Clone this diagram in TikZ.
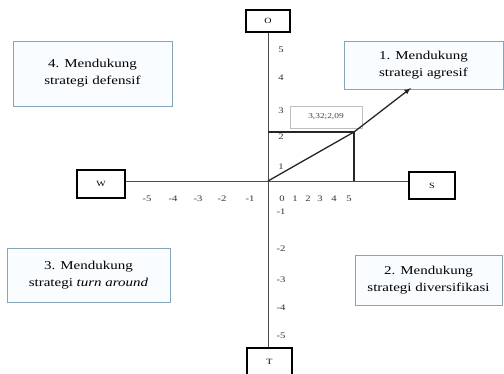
\documentclass[tikz,border=0pt]{standalone}
\usepackage{fontspec}
\setmainfont{Liberation Serif}[FakeStretch=1.25]
\usetikzlibrary{positioning}

\definecolor{garisbiru}{RGB}{135,165,185}
\definecolor{isibiru}{RGB}{250,253,255}

\tikzset{
  kuadran/.style={draw=garisbiru, fill=isibiru, line width=0.9pt, align=center,
    inner sep=0pt, font=\fontsize{12}{17}\selectfont},
  sumbubox/.style={draw=black, line width=1.3pt, fill=white, inner sep=0pt,
    font=\fontsize{8}{9}\selectfont},
  angka/.style={font=\fontsize{8.5}{9}\selectfont, text=black!80, inner sep=0pt},
  garis/.style={line width=1.3pt, black!85}
}

\begin{document}
\begin{tikzpicture}[x=1pt, y=-1pt]
    \useasboundingbox (0,0) rectangle (504,373);

    %-------------------------
    % Kotak kuadran
    %-------------------------
    \node[kuadran, minimum width=159pt, minimum height=65pt] (q4) at (92.5,73.5)
        {4. Mendukung\\strategi defensif};
    \node[kuadran, minimum width=159pt, minimum height=48pt] (q1) at (423.5,65)
        {1. Mendukung\\strategi agresif};
    \node[kuadran, minimum width=163pt, minimum height=54pt] (q3) at (88.5,275)
        {3. Mendukung\\strategi \textit{turn around}};
    \node[kuadran, minimum width=147pt, minimum height=50pt] (q2) at (428.5,280)
        {2. Mendukung\\strategi diversifikasi};

    %-------------------------
    % Sumbu
    %-------------------------
    \coordinate (orig) at (268,181);

    \node[sumbubox, minimum width=44pt, minimum height=22pt] (O) at (268,21) {O};
    \node[sumbubox, minimum width=48pt, minimum height=28pt] (W) at (101,184) {W};
    \node[sumbubox, minimum width=46pt, minimum height=27pt] (S) at (432,185.5) {S};
    \node[sumbubox, minimum width=45pt, minimum height=28pt] (T) at (269.5,362) {T};

    \draw[black!70, line width=0.8pt] (W.east |- orig) -- (S.west |- orig);
    \draw[black!70, line width=0.8pt] (O.south -| orig) -- (T.north -| orig);

    % Angka sumbu x
    \foreach \n/\px in {0/282, 1/295, 2/308, 3/320, 4/334, 5/349,
                        -1/250, -2/222, -3/198, -4/173, -5/147}
        \node[angka] (x\n) at (\px,199) {\n};

    % Angka sumbu y
    \foreach \n/\py in {5/50, 4/78, 3/111, 2/137, 1/167,
                        -1/212, -2/249, -3/280, -4/308, -5/336}
        \node[angka] (y\n) at (281,\py) {\n};

    %-------------------------
    % Titik (3,32 ; 2,09)
    %-------------------------
    \node[draw=black!25, fill=white, line width=0.6pt, minimum width=72pt,
          minimum height=22pt, inner sep=0pt, font=\fontsize{7.5}{8}\selectfont,
          text=black!75] (koord) at (326,117) {3,32;2,09};

    \coordinate (pt) at (354,132);
    \coordinate (ujung) at (411,88);

    \draw[garis] (orig |- pt) -- (pt) -- (orig -| pt);
    \draw[garis, ->, >=latex] (orig) -- (pt) -- (ujung);

\end{tikzpicture}
\end{document}
